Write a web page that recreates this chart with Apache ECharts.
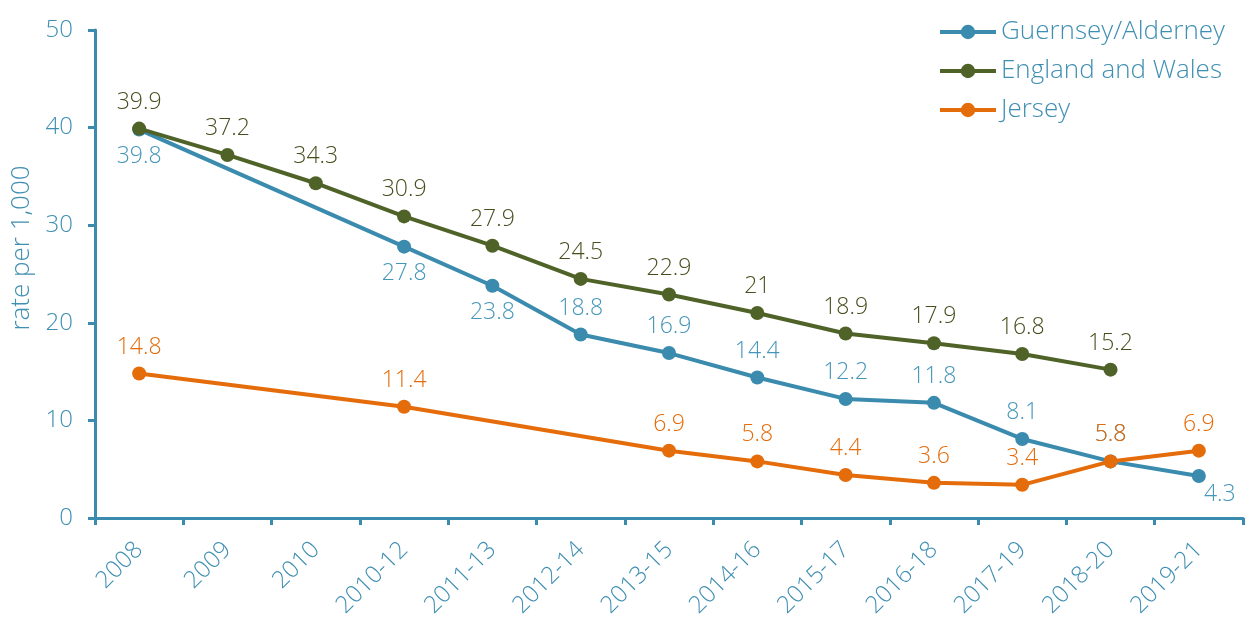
<!DOCTYPE html>
<html><head><meta charset="utf-8">
<script src="https://cdn.jsdelivr.net/npm/echarts@6/dist/echarts.min.js"></script>
<style>html,body{margin:0;padding:0;background:#fff}#c{width:1245px;height:625px}</style>
</head><body><div id="c"></div>
<script>
const categories = ['2008','2009','2010','2010-12','2011-13','2012-14','2013-15','2014-16','2015-17','2016-18','2017-19','2018-20','2019-21'];
const guernsey = [39.8, null, null, 27.8, 23.8, 18.8, 16.9, 14.4, 12.2, 11.8, 8.1, 5.8, 4.3];
const guernseyLabelBelow = [true, false, false, true, true, false, false, false, false, false, false, false, true];
const england = [39.9, 37.2, 34.3, 30.9, 27.9, 24.5, 22.9, 21, 18.9, 17.9, 16.8, 15.2, null];
const jersey = [14.8, null, null, 11.4, null, null, 6.9, 5.8, 4.4, 3.6, 3.4, 5.8, 6.9];
const yTicks = [0, 10, 20, 30, 40, 50];

const FONT = '"Open Sans", sans-serif';
const AXIS = '#3a8bae';
const TXT = '#3f8fb2';
const C_G = '#3a8bae', C_E = '#4f6228', C_J = '#e46c0a';

const lastIdx = categories.length - 1;
const chart = echarts.init(document.getElementById('c'));
chart.setOption({
  animation: false,
  textStyle: {fontFamily: FONT},
  grid: {left: 95, right: 2, top: 30, bottom: 107, containLabel: false},
  legend: {
    orient: 'vertical', right: 15, top: 14, itemGap: 13,
    itemWidth: 56, itemHeight: 18,
    lineStyle: {width: 4},
    textStyle: {color: TXT, fontSize: 26, fontFamily: FONT, fontWeight: 300},
    data: ['Guernsey/Alderney', 'England and Wales', 'Jersey']
  },
  xAxis: {
    type: 'category', data: categories, boundaryGap: true,
    axisLine: {lineStyle: {color: AXIS, width: 3}},
    axisTick: {show: true, alignWithLabel: false, length: 7, lineStyle: {color: AXIS, width: 3}},
    axisLabel: {rotate: 45, color: TXT, fontSize: 24, fontWeight: 300, fontFamily: FONT, margin: 28, interval: 0}
  },
  yAxis: {
    type: 'value', min: yTicks[0], max: yTicks[yTicks.length - 1], interval: 10,
    name: 'rate per 1,000', nameLocation: 'middle', nameGap: 60, nameRotate: 90,
    nameTextStyle: {color: TXT, fontSize: 26, fontWeight: 300, fontFamily: FONT, padding: [0, 0, 0, 52]},
    axisLine: {show: true, lineStyle: {color: AXIS, width: 3}},
    axisTick: {show: true, length: 7, lineStyle: {color: AXIS, width: 3}},
    axisLabel: {color: TXT, fontSize: 24, fontWeight: 300, fontFamily: FONT, margin: 22},
    splitLine: {show: false}
  },
  series: [
    {
      name: 'Guernsey/Alderney', type: 'line', connectNulls: true,
      data: guernsey.map((v, i) => ({
        value: v,
        label: i === lastIdx
          ? {position: 'bottom', offset: [21, -8]}
          : {position: guernseyLabelBelow[i] ? 'bottom' : 'top'}
      })),
      symbol: 'circle', symbolSize: 14,
      lineStyle: {color: C_G, width: 4}, itemStyle: {color: C_G},
      label: {show: true, color: '#4596b8', fontSize: 23, fontWeight: 300, fontFamily: FONT, distance: 8},
      z: 2
    },
    {
      name: 'England and Wales', type: 'line', connectNulls: true, data: england,
      symbol: 'circle', symbolSize: 14,
      lineStyle: {color: C_E, width: 4}, itemStyle: {color: C_E},
      label: {show: true, position: 'top', color: '#464f1e', fontSize: 23, fontWeight: 300, fontFamily: FONT, distance: 8},
      z: 3
    },
    {
      name: 'Jersey', type: 'line', connectNulls: true, data: jersey,
      symbol: 'circle', symbolSize: 14,
      lineStyle: {color: C_J, width: 4}, itemStyle: {color: C_J},
      label: {show: true, position: 'top', color: C_J, fontSize: 23, fontWeight: 300, fontFamily: FONT, distance: 8},
      z: 4
    }
  ]
});
</script></body></html>
